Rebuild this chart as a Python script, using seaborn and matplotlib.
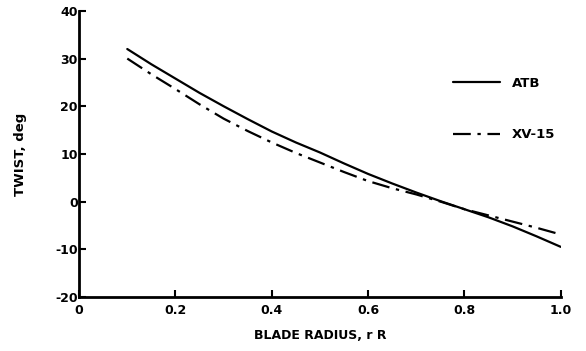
import numpy as np
import pandas as pd
import seaborn as sns
import matplotlib
matplotlib.use("Agg")
import matplotlib.pyplot as plt

radius = [0.1, 0.15, 0.2, 0.25, 0.3, 0.35, 0.4, 0.45, 0.5, 0.55, 0.6, 0.65, 0.7, 0.75, 0.8, 0.85, 0.9, 0.95, 1.0]
atb_twist = [32.0, 28.8, 25.8, 22.8, 20.0, 17.3, 14.7, 12.4, 10.3, 8.0, 5.8, 3.8, 1.9, 0.1, -1.6, -3.3, -5.2, -7.3, -9.5]
xv15_twist = [30.0, 26.7, 23.6, 20.4, 17.4, 14.8, 12.4, 10.2, 8.2, 6.2, 4.3, 2.8, 1.5, 0.0, -1.6, -2.9, -4.2, -5.5, -6.9]
series_names = ["ATB", "XV-15"]
x_ticks = [0, 0.2, 0.4, 0.6, 0.8, 1.0]
x_tick_labels = ["0", "0.2", "0.4", "0.6", "0.8", "1.0"]
y_ticks = [-20, -10, 0, 10, 20, 30, 40]

df = pd.DataFrame({
    "radius": radius * 2,
    "twist": atb_twist + xv15_twist,
    "series": [series_names[0]] * len(radius) + [series_names[1]] * len(radius),
})

sns.set_style("ticks")
plt.rcParams["font.family"] = ["DejaVu Sans"]
plt.rcParams["font.weight"] = "bold"
plt.rcParams["axes.unicode_minus"] = False
plt.rcParams["text.color"] = "black"
plt.rcParams["axes.labelcolor"] = "black"

fig = plt.figure(figsize=(5.86, 3.51), dpi=100)
ax = fig.add_axes([0.135, 0.154, 0.822, 0.815])

sns.lineplot(data=df, x="radius", y="twist", hue="series", style="series",
             palette={"ATB": "black", "XV-15": "black"},
             dashes={"ATB": "", "XV-15": (8, 3, 1.5, 3)},
             linewidth=1.6, ax=ax, estimator=None, sort=True)

ax.set_xlim(0, 1.0)
ax.set_ylim(-20, 40)
ax.set_xticks(x_ticks)
ax.set_xticklabels(x_tick_labels)
ax.set_yticks(y_ticks)
ax.tick_params(direction="in", length=5, width=1.5, labelsize=9, pad=1,
               colors="black", labelcolor="black")
for lab in ax.get_xticklabels() + ax.get_yticklabels():
    lab.set_fontweight("bold")
ax.tick_params(axis="x", pad=5)
sns.despine(ax=ax)
for s in ["left", "bottom"]:
    ax.spines[s].set_linewidth(2)
    ax.spines[s].set_color("black")

ax.set_xlabel("BLADE RADIUS, r R", fontsize=9, fontweight="bold", labelpad=9, color="black")
ax.set_ylabel("TWIST, deg", fontsize=9.5, fontweight="bold", labelpad=20, color="black")

leg = ax.legend(loc="center left", bbox_to_anchor=(0.776, 0.657), frameon=False,
                fontsize=9.5, handlelength=3.55, labelspacing=2.95, handletextpad=0.9,
                borderaxespad=0, borderpad=0)
for t in leg.get_texts():
    t.set_fontweight("bold")
    t.set_color("black")

fig.savefig("out.png", dpi=100, facecolor="white")
